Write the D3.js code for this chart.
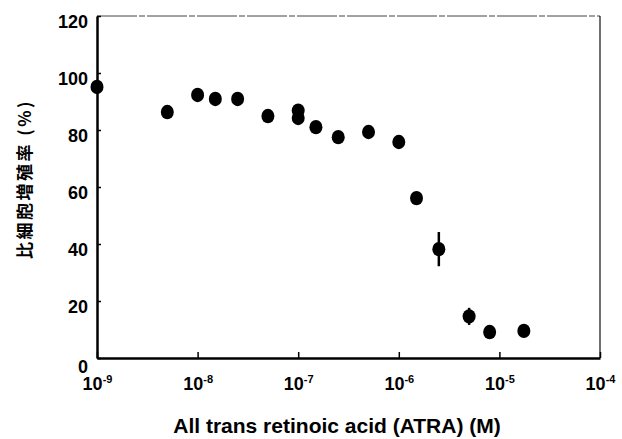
<!DOCTYPE html>
<html>
<head>
<meta charset="utf-8">
<script src="https://cdn.jsdelivr.net/npm/d3@7"></script>
<style>
  html, body { margin: 0; padding: 0; background: #fff; }
  svg { display: block; }
  text { font-family: "Liberation Sans", Arial, Helvetica, sans-serif; font-weight: bold; fill: #000; }
</style>
</head>
<body>
<svg id="chart" width="622" height="439"></svg>
<script>
// ---- data ----
const concentrations = [1e-9, 5e-9, 1e-8, 1.5e-8, 2.5e-8, 5e-8, 1e-7, 1e-7, 1.5e-7, 2.5e-7, 5e-7, 1e-6, 1.5e-6, 2.5e-6, 5e-6, 8e-6, 1.75e-5];
const proliferation = [95.1, 86.3, 92.3, 90.9, 90.9, 84.9, 86.8, 84.2, 81.0, 77.5, 79.3, 75.8, 56.1, 38.2, 14.6, 9.1, 9.5];
const errors = [0, 0, 0, 0, 0, 1.5, 0, 0, 0, 0, 1.5, 2, 0, 6, 3, 0, 0];
const xTickExponents = [-9, -8, -7, -6, -5, -4];
const yTicks = [0, 20, 40, 60, 80, 100, 120];
const xLabel = "All trans retinoic acid (ATRA) (M)";
const yLabel = "比細胞増殖率 (%)";

// ---- layout ----
const svg = d3.select("#chart");
const pLeft = 97, pRight = 600, pTop = 16, pBottom = 358;

const x = d3.scaleLog().domain([1e-9, 1e-4]).range([pLeft, pRight]);
const y = d3.scaleLinear().domain([0, 120]).range([pBottom, pTop]);

// frame (top & right)
svg.append("line").attr("x1", pLeft).attr("x2", pRight).attr("y1", pTop).attr("y2", pTop)
  .attr("stroke", "#444").attr("stroke-width", 1).attr("stroke-dasharray", "40,2,6,2");
svg.append("line").attr("x1", pRight).attr("x2", pRight).attr("y1", pTop).attr("y2", pBottom)
  .attr("stroke", "#111").attr("stroke-width", 1.2);

// y axis
const yAxis = d3.axisLeft(y).tickValues(yTicks).tickSizeInner(-4).tickSizeOuter(0).tickPadding(9)
  .tickFormat(d3.format("d"));
const gy = svg.append("g").attr("transform", `translate(${pLeft},0)`).call(yAxis);
gy.select(".domain").attr("stroke", "#000").attr("stroke-width", 2.5);
gy.selectAll(".tick line").attr("stroke", "#000").attr("stroke-width", 1.5);
gy.selectAll(".tick text")
  .style("font-size", "18px").style("font-weight", "bold")
  .attr("dy", d => d === 0 ? "0.8em" : "0.62em");

// x axis
const xAxis = d3.axisBottom(x).tickValues(xTickExponents.map(e => Math.pow(10, e)))
  .tickSizeInner(-6).tickSizeOuter(0).tickFormat(() => "");
const gx = svg.append("g").attr("transform", `translate(0,${pBottom})`).call(xAxis);
gx.select(".domain").attr("stroke", "#000").attr("stroke-width", 2.5);
gx.selectAll(".tick line").attr("stroke", "#000").attr("stroke-width", 1.5);
gx.selectAll(".tick").each(function(d, i) {
  const t = d3.select(this).select("text")
    .attr("y", 32).attr("dy", 0).attr("text-anchor", "middle")
    .style("font-size", "18px");
  t.text(null);
  t.append("tspan").text("10");
  t.append("tspan").attr("dy", -7).style("font-size", "11px").text("-" + Math.abs(xTickExponents[i]));
});

// error bars
const eb = concentrations.map((c, i) => ({c, v: proliferation[i], e: errors[i]})).filter(d => d.e > 0);
svg.append("g").selectAll("line").data(eb).join("line")
  .attr("x1", d => x(d.c)).attr("x2", d => x(d.c))
  .attr("y1", d => y(d.v + d.e)).attr("y2", d => y(d.v - d.e))
  .attr("stroke", "#000").attr("stroke-width", 2.5);

// points
svg.append("g").selectAll("ellipse").data(concentrations.map((c, i) => ({c, v: proliferation[i]})))
  .join("ellipse")
  .attr("cx", d => x(d.c)).attr("cy", d => y(d.v))
  .attr("rx", 6.5).attr("ry", 7.2).attr("fill", "#000");

// axis labels
svg.append("text").attr("x", 337).attr("y", 433)
  .attr("text-anchor", "middle").style("font-size", "21px").text(xLabel);
svg.append("text").attr("transform", "translate(31,179) rotate(-90)")
  .attr("text-anchor", "middle")
  .style("font-family", "'Noto Sans CJK JP', 'Noto Sans CJK SC', sans-serif")
  .style("font-size", "17px").style("font-weight", "bold").style("letter-spacing", "2.5px")
  .text(yLabel);
</script>
</body>
</html>
